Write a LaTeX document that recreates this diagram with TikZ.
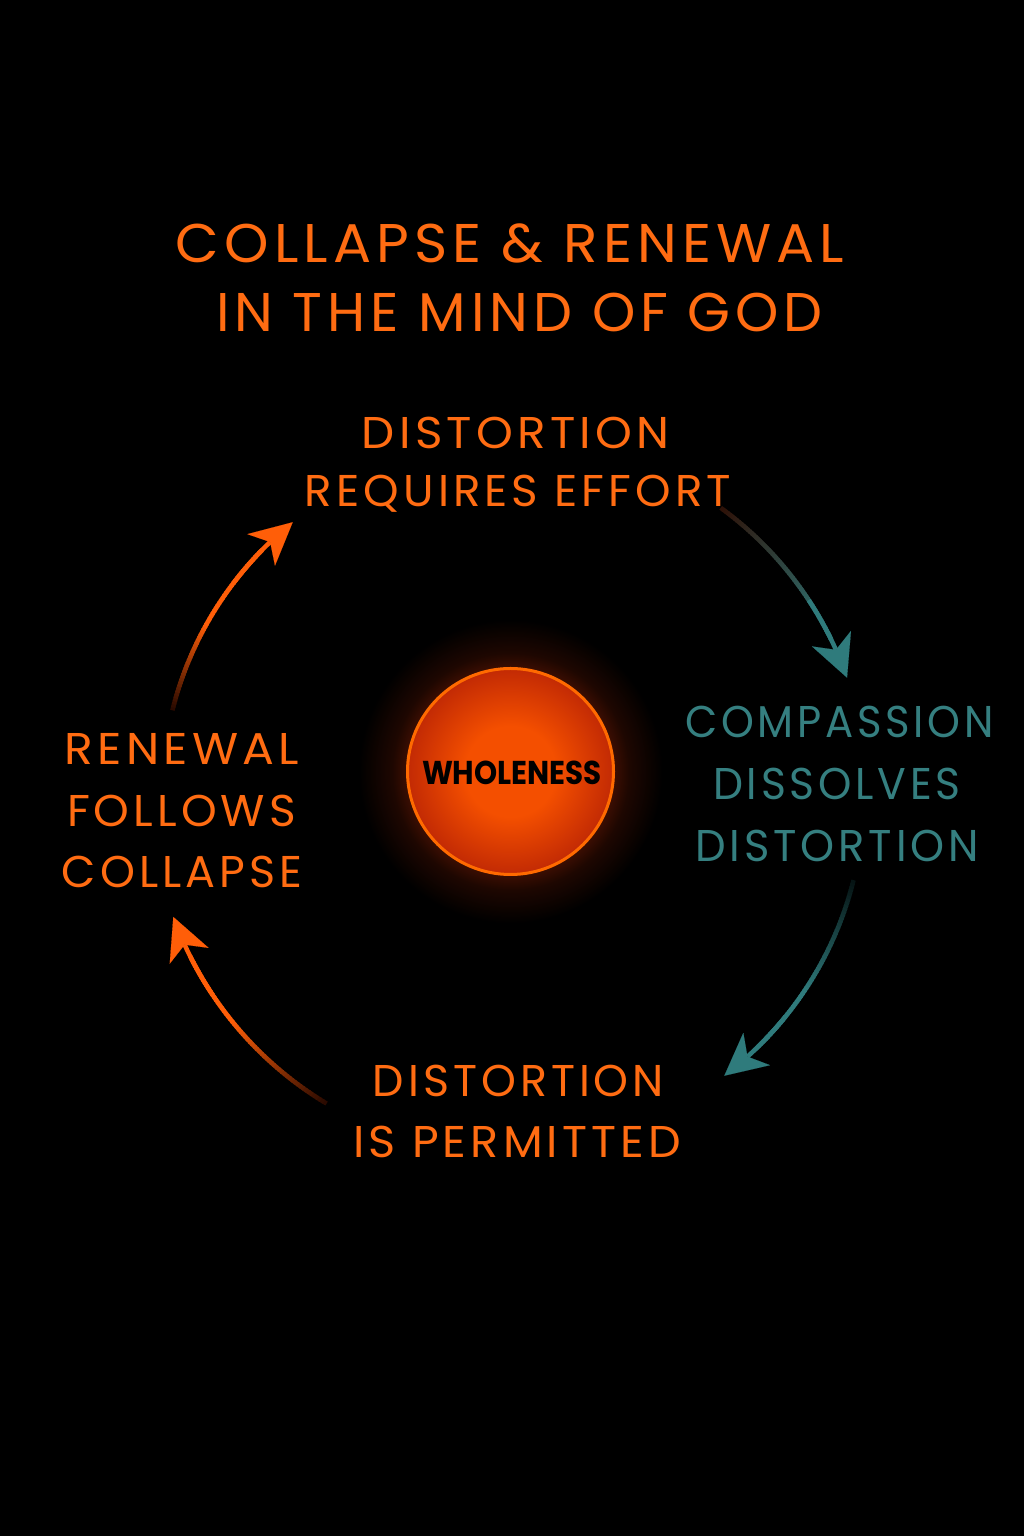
\documentclass[tikz,border=0pt]{standalone}
\usepackage{fontspec}
\usepackage{graphicx}
\usetikzlibrary{arrows.meta,bending}
\setmainfont{Poppins}
\newfontfamily\lblfont{Poppins}[LetterSpace=9]
\newfontfamily\wfont{Poppins}
\definecolor{org}{HTML}{FF6C12}
\definecolor{orgarrow}{HTML}{FF5E08}
\definecolor{tealtxt}{HTML}{357F80}
\definecolor{tealarr}{HTML}{2F7B7C}
\definecolor{sunmid}{HTML}{F44F00}
\definecolor{sunedge}{HTML}{C22A04}
\definecolor{sunring}{HTML}{FF6A00}
\definecolor{halo}{HTML}{3C0E02}
\definecolor{dimorg}{HTML}{2A0A00}
\definecolor{dimbrown}{HTML}{2E1208}
\definecolor{dimteal}{HTML}{061414}
\pgfdeclareradialshading{sunshade}{\pgfpoint{0bp}{0bp}}{color(0bp)=(sunmid); color(11bp)=(sunmid); color(25bp)=(sunedge); color(50bp)=(sunedge)}
\pgfdeclareradialshading{haloshade}{\pgfpoint{0bp}{0bp}}{color(0bp)=(halo); color(17bp)=(halo); color(19.5bp)=(halo!50!black); color(25bp)=(black); color(50bp)=(black)}
\newcommand{\fitw}[2]{\resizebox{#1}{\height}{#2\kern-0.09em}}
% #1 start angle, #2 tip angle, #3 radius, #4 start colour, #5 end colour, #6 ramp
\newcommand{\gradarc}[6]{%
  \pgfmathsetmacro\gsign{sign(#2-#1)}
  \pgfmathsetmacro\gend{#2-7*\gsign}
  \pgfmathsetmacro\astart{#2-14*\gsign}
  \foreach \i in {0,...,59}{
    \pgfmathsetmacro\aa{#1+(\gend-#1)*\i/60}
    \pgfmathsetmacro\ab{#1+(\gend-#1)*(\i+1.5)/60}
    \pgfmathtruncatemacro\pc{min(100,100*#6*\i/59)}
    \draw[arcline,color=#5!\pc!#4] (C) ++(\aa:#3) arc[start angle=\aa,end angle=\ab,radius=#3];
  }
  \draw[arcline,color=#5,-{Stealth[length=42pt,width=42pt,inset=12pt,line width=0.1pt]}]
    (C) ++(\astart:#3) arc[start angle=\astart,end angle=#2,radius=#3];
}
\begin{document}
\begin{tikzpicture}[x=1pt,y=1pt,
  arcline/.style={line width=4.5pt},
  lbl/.style={inner sep=0pt,anchor=base,text=org,font=\lblfont\fontsize{44.5}{50}\selectfont},
  tlbl/.style={lbl,text=tealtxt},
  ttl/.style={lbl,font=\lblfont\fontsize{54.5}{60}\selectfont}]
\useasboundingbox (0,0) rectangle (1024,1536);
\fill[black] (0,0) rectangle (1024,1536);
\coordinate (C) at (512,741);
% title
\node[ttl] (t1) at (507.5,1273) {\fitw{663pt}{COLLAPSE \& RENEWAL}};
\node[ttl] (t2) at (517,1204) {\fitw{602pt}{IN THE MIND OF GOD}};
% top label
\node[lbl] (a1) at (513.5,1087) {\fitw{303pt}{DISTORTION}};
\node[lbl] (a2) at (516,1029) {\fitw{422pt}{REQUIRES EFFORT}};
% right label
\node[tlbl] (b1) at (837.5,798) {\fitw{305pt}{COMPASSION}};
\node[tlbl] (b2) at (835,736) {\fitw{244pt}{DISSOLVES}};
\node[tlbl] (b3) at (835,674) {\fitw{280pt}{DISTORTION}};
% left label
\node[lbl] (c1) at (180,771) {\fitw{230pt}{RENEWAL}};
\node[lbl] (c2) at (179.5,709) {\fitw{225pt}{FOLLOWS}};
\node[lbl] (c3) at (180,648) {\fitw{236pt}{COLLAPSE}};
% bottom label
\node[lbl] (d1) at (516.5,439) {\fitw{287pt}{DISTORTION}};
\node[lbl] (d2) at (515,378) {\fitw{324pt}{IS PERMITTED}};
% centre
\fill[shading=haloshade] (510.5,764.5) circle (152);
\draw[shading=sunshade,draw=sunring,line width=3pt] (510.5,764.5) circle (103);
\node[inner sep=0pt,anchor=base,font=\wfont\bfseries\fontsize{33}{36}\selectfont,text=black] (w) at (512,751) {\resizebox{180pt}{\height}{WHOLENESS}};
% arrows
\gradarc{166}{128.8}{350pt}{dimorg}{orgarrow}{2.0}
\gradarc{54}{19.3}{355pt}{dimbrown}{tealarr}{1.0}
\gradarc{-14}{-52.9}{352pt}{dimteal}{tealarr}{1.6}
\gradarc{-121}{-160.2}{360pt}{dimorg}{orgarrow}{1.6}
\end{tikzpicture}
\end{document}
